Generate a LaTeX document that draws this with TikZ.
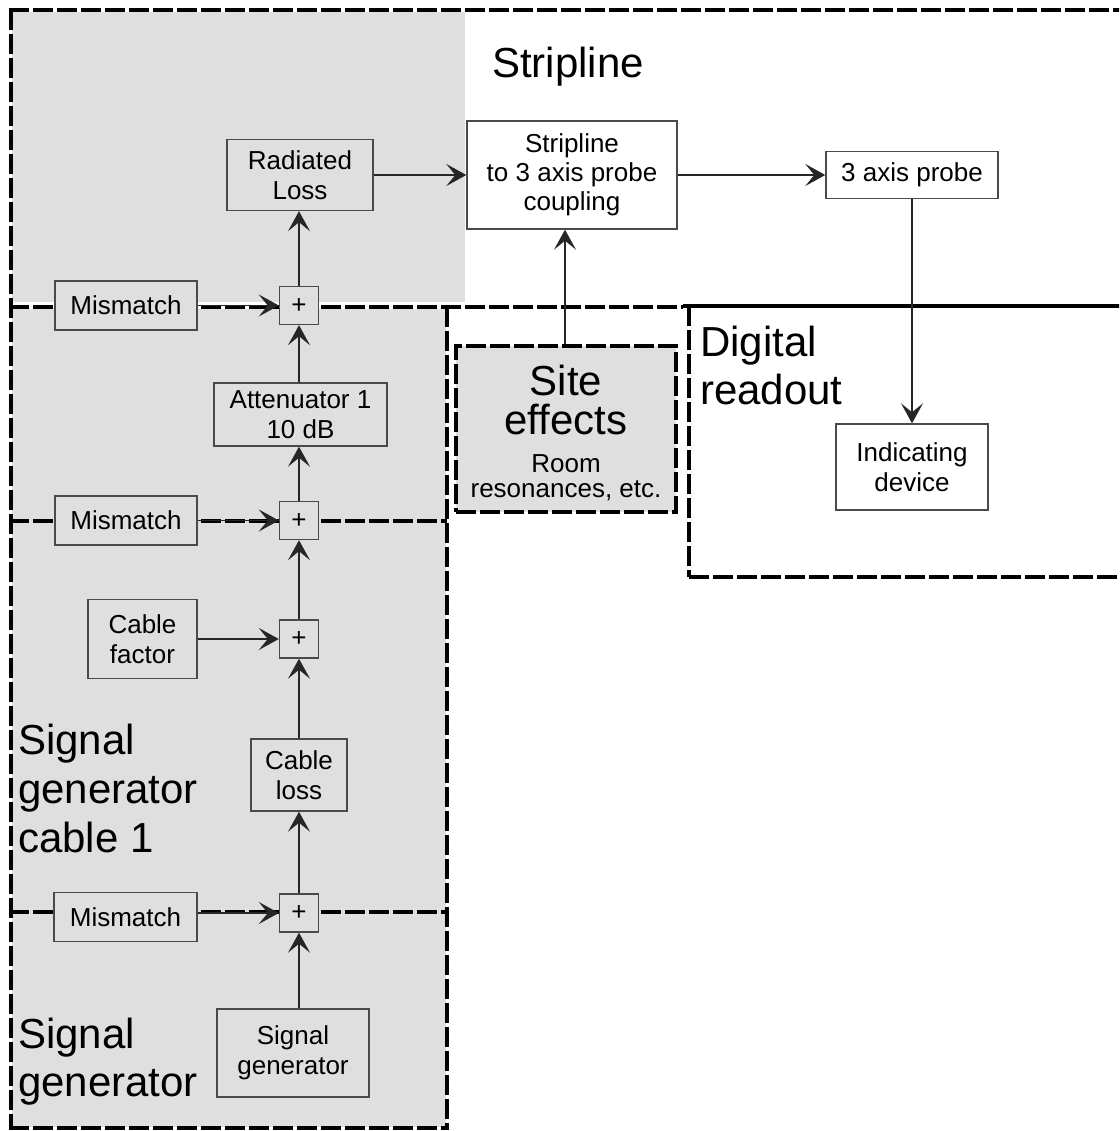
\documentclass[tikz,border=0pt]{standalone}
\usepackage{fontspec}
\setmainfont{Liberation Sans}
\usetikzlibrary{arrows.meta}
\definecolor{regiongray}{HTML}{DFDFDF}
\definecolor{edgegray}{HTML}{4A4A4A}
\newcommand\txtS{\fontsize{26}{30}\selectfont}
\newcommand\txtL{\fontsize{42}{48}\selectfont}
\begin{document}
\begin{tikzpicture}[x=1pt,y=-1pt,
  blk/.style={draw=edgegray, line width=1.4pt, fill=regiongray, inner sep=0pt, align=center, font=\txtS},
  wblk/.style={blk, fill=white},
  sumbox/.style={blk, minimum width=39pt, minimum height=38pt},
  region/.style={line width=4pt, dash pattern=on 20pt off 4pt},
  conn/.style={draw=black!85, line width=1.4pt, -{Stealth[length=20pt,width=22pt,inset=9pt]}},
  biglabel/.style={inner sep=0pt, align=left, font=\txtL, anchor=north west},
]
\useasboundingbox (0,0) rectangle (1119,1131);
\begin{scope}
\clip (0,0) rectangle (1119,1131);
% region fills
\fill[regiongray] (12,12) rectangle (465,302);
\fill[regiongray] (12,309) rectangle (446,1127);
% region borders
\draw[region] (9,10) -- (1130,10);
\draw[region] (11,10) -- (11,1130);
\draw[region] (9,1128) -- (449,1128);
\draw[region] (447,307) -- (447,1130);
\draw[region] (9,307) -- (683,307);
\draw[line width=4pt] (683,306) -- (1130,306);
\draw[region] (689,306) -- (689,577);
\draw[region] (689,577) -- (1130,577);
\draw[region] (9,521) -- (447,521);
\draw[region] (9,912) -- (447,912);
\end{scope}

% region labels
\node[biglabel] (lstrip) at (492,47) {Stripline};
\node[biglabel] (ldig) at (700,326) {Digital\\readout};
\node[biglabel, font={\fontsize{42}{49}\selectfont}] (lcab) at (18,724) {Signal\\generator\\cable 1};
\node[biglabel] (lgen) at (18,1018) {Signal\\generator};

% site effects
\node[draw=black, region, fill=regiongray, minimum width=220pt, minimum height=166pt, inner sep=0pt] (site) at (566,429) {};
\node[inner sep=0pt, align=center, anchor=north, font={\fontsize{42}{39}\selectfont}] (sitename) at (566,365) {Site\\effects};
\node[inner sep=0pt, align=center, anchor=north, font={\fontsize{26}{25.5}\selectfont}] (sitenote) at (566,454) {Room\\resonances, etc.};

% blocks
\node[blk, minimum width=146pt, minimum height=71pt] (rad) at (300,175) {Radiated\\Loss};
\node[wblk, minimum width=210pt, minimum height=108pt, font={\fontsize{26}{29}\selectfont}] (strip) at (572,175) {Stripline\\to 3 axis probe\\coupling};
\node[wblk, minimum width=172pt, minimum height=47pt] (probe) at (912,175) {3 axis probe};
\node[wblk, minimum width=152pt, minimum height=86pt] (ind) at (912,467) {Indicating\\device};
\node[blk, minimum width=142pt, minimum height=49pt] (mm1) at (126,305.5) {Mismatch};
\node[sumbox] (p1) at (299,305.5) {+};
\node[blk, minimum width=173pt, minimum height=63pt] (att) at (300.5,414.5) {Attenuator 1\\10 dB};
\node[blk, minimum width=142pt, minimum height=49pt] (mm2) at (126,520.5) {Mismatch};
\node[sumbox] (p2) at (299,520.5) {+};
\node[blk, minimum width=109pt, minimum height=79pt] (cf) at (142.5,639) {Cable\\factor};
\node[sumbox] (p3) at (299,639) {+};
\node[blk, minimum width=96pt, minimum height=72pt] (cl) at (299,775) {Cable\\loss};
\node[blk, minimum width=143pt, minimum height=49pt] (mm3) at (125.5,917) {Mismatch};
\node[sumbox] (p4) at (299,913) {+};
\node[blk, minimum width=152pt, minimum height=88pt] (sg) at (293,1053) {Signal\\generator};

% connectors
\draw[conn] (mm1) -- (p1);
\draw[conn] (p1.north) -- (p1.north |- rad.south);
\draw[conn] (att.north -| p1) -- (p1.south);
\draw[conn] (p2.north) -- (p2.north |- att.south);
\draw[conn] (mm2) -- (p2);
\draw[conn] (p3) -- (p2);
\draw[conn] (cf) -- (p3);
\draw[conn] (cl) -- (p3);
\draw[conn] (p4) -- (cl);
\draw[conn] (p4.west -| mm3.east) -- (p4.west);
\draw[conn] (sg.north -| p4) -- (p4.south);
\draw[conn] (rad) -- (strip);
\draw[conn] (strip) -- (probe);
\draw[conn] (probe.south) -- (ind.north);
\draw[conn] (site.north -| 565,0) -- (strip.south -| 565,0);
\end{tikzpicture}
\end{document}
